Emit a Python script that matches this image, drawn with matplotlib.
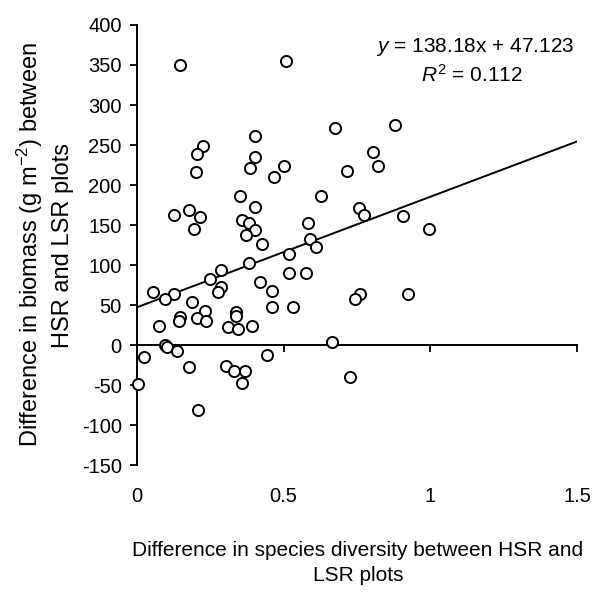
"""Biomass difference vs species diversity difference (HSR vs LSR plots)."""
import matplotlib
matplotlib.use("Agg")
import matplotlib.pyplot as plt
import numpy as np

plt.rcParams["font.family"] = ["Liberation Sans", "DejaVu Sans"]
plt.rcParams["mathtext.fontset"] = "custom"
plt.rcParams["mathtext.rm"] = "Liberation Sans"
plt.rcParams["mathtext.it"] = "Liberation Sans:italic"
plt.rcParams["axes.unicode_minus"] = False

# difference in species diversity (x) and in biomass, g m-2 (y)
diversity_diff = [
    0.148, 0.508, 0.224, 0.206, 0.201, 0.401, 0.402, 0.384, 0.500, 0.466,
    0.350, 0.402, 0.676, 0.878, 0.803, 0.820, 0.716, 0.628, 0.758, 0.775,
    0.907, 0.125, 0.176, 0.216, 0.195, 0.358, 0.381, 0.403, 0.373, 0.426,
    0.582, 0.589, 0.610, 0.519, 0.994, 0.381, 0.286, 0.248, 0.287, 0.275,
    0.420, 0.461, 0.519, 0.577, 0.053, 0.125, 0.094, 0.188, 0.231, 0.148,
    0.142, 0.205, 0.235, 0.339, 0.339, 0.309, 0.346, 0.392, 0.461, 0.531,
    0.074, 0.761, 0.744, 0.924, 0.665, 0.094, 0.102, 0.136, 0.025, 0.443,
    0.176, 0.304, 0.329, 0.369, 0.358, 0.727, 0.002, 0.207,
]
biomass_diff = [
    350, 355, 249, 239, 216, 261, 235, 221, 224, 210,
    186, 173, 271, 275, 241, 224, 217, 186, 171, 162,
    161, 162, 169, 160, 145, 156, 152, 144, 137, 126,
    152, 132, 122, 114, 145, 103, 94, 83, 73, 66,
    79, 68, 90, 90, 66, 64, 57, 54, 43, 35,
    30, 34, 30, 41, 36, 22, 20, 24, 47, 47,
    24, 64, 57, 64, 4, 0, -2, -7, -15, -12,
    -27, -26, -33, -32, -47, -40, -49, -81,
]

slope, intercept = 138.18, 47.123
r_squared = 0.112

x_ticks = [0, 0.5, 1, 1.5]
x_tick_labels = ["0", "0.5", "1", "1.5"]
y_ticks = list(range(-150, 401, 50))

W, H = 600, 592
fig = plt.figure(figsize=(W / 100, H / 100), dpi=100)
ax = fig.add_axes([137 / W, 1 - 465 / H, 440 / W, 440 / H])

line_x = np.array([0, 1.5])
ax.plot(line_x, slope * line_x + intercept, color="black", lw=1.4, zorder=2)
ax.scatter(diversity_diff, biomass_diff, s=64, facecolors="white",
           edgecolors="black", linewidths=1.4, zorder=3, clip_on=False)

ax.set_xlim(0, 1.5)
ax.set_ylim(-150, 400)
ax.set_yticks(y_ticks)
ax.set_xticks(x_ticks)

for side in ("top", "right"):
    ax.spines[side].set_visible(False)
ax.spines["bottom"].set_position(("data", 0))
ax.spines["left"].set_linewidth(1.4)
ax.spines["bottom"].set_linewidth(1.4)

ax.tick_params(axis="y", direction="out", length=5, width=1.3,
               labelsize=14.5, pad=6)
ax.tick_params(axis="x", direction="out", length=5, width=1.3,
               labelbottom=False)

sec = ax.secondary_xaxis("bottom")
sec.set_xticks(x_ticks, x_tick_labels)
sec.spines["bottom"].set_visible(False)
sec.tick_params(length=0, labelsize=14.5, pad=16)

fig.text(475 / W, 1 - 47 / H, r"$y$ = 138.18x + 47.123", fontsize=15,
         ha="center", va="center")
fig.text(472 / W, 1 - 75 / H, r"$R^{\mathrm{2}}$ = " + f"{r_squared}",
         fontsize=15, ha="center", va="center")

fig.text(358 / W, 1 - 541 / H,
         "Difference in species diversity between HSR and\nLSR plots",
         ha="center", va="top", fontsize=15, linespacing=1.4)
fig.text(44 / W, 1 - 245 / H,
         "Difference in biomass (g m$^{\\mathrm{-2}}$) between\nHSR and LSR plots",
         ha="center", va="center", rotation=90, fontsize=17, linespacing=1.4)

fig.savefig("out.png", dpi=100, facecolor="white")
